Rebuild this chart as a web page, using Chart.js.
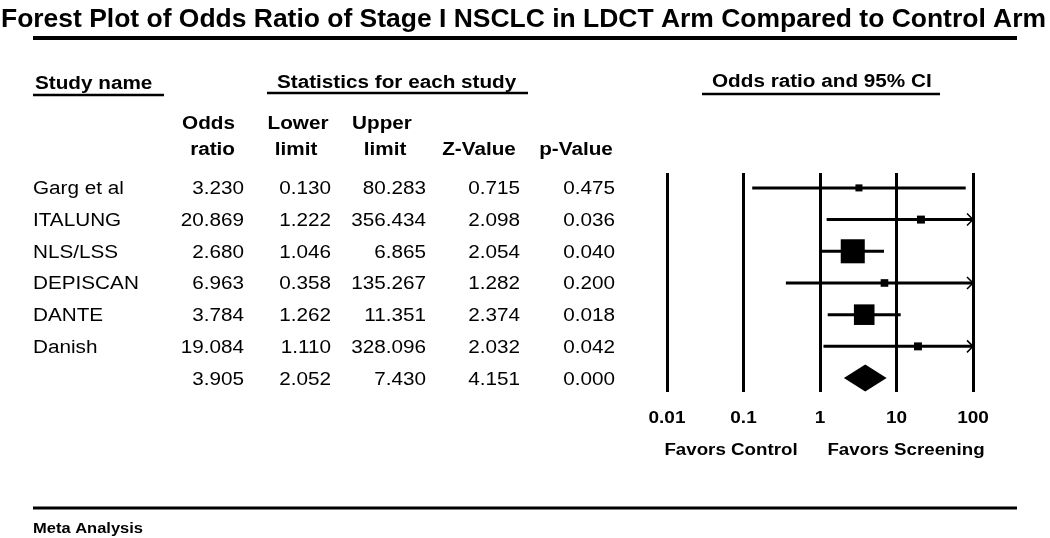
<!DOCTYPE html>
<html>
<head>
<meta charset="utf-8">
<script src="https://cdn.jsdelivr.net/npm/chart.js@4.4.1/dist/chart.umd.min.js"></script>
<style>
  body { margin: 0; background: #fff; }
  #wrap { width: 1050px; height: 538px; }
</style>
</head>
<body>
<div id="wrap"><canvas id="forest" width="1050" height="538"></canvas></div>
<script>
// study rows, last one is the pooled result
const studies = ['Garg et al', 'ITALUNG', 'NLS/LSS', 'DEPISCAN', 'DANTE', 'Danish', ''];
const oddsRatio = [3.230, 20.869, 2.680, 6.963, 3.784, 19.084, 3.905];
const lowerLimit = [0.130, 1.222, 1.046, 0.358, 1.262, 1.110, 2.052];
const upperLimit = [80.283, 356.434, 6.865, 135.267, 11.351, 328.096, 7.430];
const zValue = [0.715, 2.098, 2.054, 1.282, 2.374, 2.032, 4.151];
const pValue = [0.475, 0.036, 0.040, 0.200, 0.018, 0.042, 0.000];

const tickValues = [0.01, 0.1, 1, 10, 100];
const tickLabels = ['0.01', '0.1', '1', '10', '100'];

const FONT = '"Liberation Sans", Arial, sans-serif';
const nStudies = studies.length - 1;

// weight of each study = 1 / variance of log OR (from the CI), square area follows it
const weights = lowerLimit.slice(0, nStudies).map(function(lo, i) {
  const se = (Math.log(upperLimit[i]) - Math.log(lo)) / 3.92;
  return 1 / (se * se);
});
const maxW = Math.max.apply(null, weights);

const ciSets = [];
for (let i = 0; i < nStudies; i++) {
  ciSets.push({
    type: 'line',
    data: [{ x: lowerLimit[i], y: i + 1 }, { x: upperLimit[i], y: i + 1 }],
    borderColor: '#000',
    borderWidth: 3,
    pointRadius: 0
  });
}

const boxSet = {
  type: 'scatter',
  data: oddsRatio.slice(0, nStudies).map(function(v, i) { return { x: v, y: i + 1 }; }),
  pointStyle: 'rect',
  pointRadius: weights.map(function(w) { return 17 * Math.sqrt(w / maxW); }),
  backgroundColor: '#000',
  borderColor: '#000',
  borderWidth: 0
};

function txt(ctx, s, x, y, size, bold, align, sx) {
  ctx.save();
  ctx.font = (bold ? 'bold ' : '') + size + 'px ' + FONT;
  ctx.textAlign = align;
  ctx.textBaseline = 'alphabetic';
  ctx.fillStyle = '#000';
  ctx.translate(x, y);
  ctx.scale(sx, 1);
  ctx.fillText(s, 0, 0);
  ctx.restore();
}

function hline(ctx, x1, x2, y, w) {
  ctx.save();
  ctx.strokeStyle = '#000';
  ctx.lineWidth = w;
  ctx.beginPath();
  ctx.moveTo(x1, y);
  ctx.lineTo(x2, y);
  ctx.stroke();
  ctx.restore();
}

const tablePlugin = {
  id: 'forestTable',
  afterDraw: function(chart) {
    const ctx = chart.ctx;
    const xs = chart.scales.x;
    const ys = chart.scales.y;
    const SX = 1.15;

    // title, stretched to the full width
    const title = 'Forest Plot of Odds Ratio of Stage I NSCLC in LDCT Arm Compared to Control Arm';
    ctx.font = 'bold 25px ' + FONT;
    const tw = ctx.measureText(title).width;
    txt(ctx, title, 1, 27, 25, true, 'left', 1045 / tw);
    hline(ctx, 33, 1017, 38, 4);

    // group headers
    txt(ctx, 'Study name', 35, 89, 18, true, 'left', SX);
    hline(ctx, 33, 164, 95, 2.5);
    txt(ctx, 'Statistics for each study', 277, 88, 18, true, 'left', SX);
    hline(ctx, 267, 528, 93, 2.5);
    txt(ctx, 'Odds ratio and 95% CI', 712, 87, 18, true, 'left', SX);
    hline(ctx, 702, 940, 94, 2.5);

    // column headers
    txt(ctx, 'Odds', 235, 129, 18, true, 'right', SX);
    txt(ctx, 'ratio', 235, 155, 18, true, 'right', SX);
    txt(ctx, 'Lower', 298, 129, 18, true, 'center', SX);
    txt(ctx, 'limit', 296, 155, 18, true, 'center', SX);
    txt(ctx, 'Upper', 382, 129, 18, true, 'center', SX);
    txt(ctx, 'limit', 385, 155, 18, true, 'center', SX);
    txt(ctx, 'Z-Value', 479, 155, 18, true, 'center', SX);
    txt(ctx, 'p-Value', 576, 155, 18, true, 'center', SX);

    // table rows, placed on the same y scale as the plot
    for (let i = 0; i < studies.length; i++) {
      const y = ys.getPixelForValue(i + 1) + 6.5;
      txt(ctx, studies[i], 33, y, 18, false, 'left', SX);
      txt(ctx, oddsRatio[i].toFixed(3), 244, y, 18, false, 'right', SX);
      txt(ctx, lowerLimit[i].toFixed(3), 331, y, 18, false, 'right', SX);
      txt(ctx, upperLimit[i].toFixed(3), 426, y, 18, false, 'right', SX);
      txt(ctx, zValue[i].toFixed(3), 520, y, 18, false, 'right', SX);
      txt(ctx, pValue[i].toFixed(3), 615, y, 18, false, 'right', SX);
    }

    // arrows where the CI runs past the axis
    ctx.save();
    ctx.strokeStyle = '#000';
    ctx.lineWidth = 1.5;
    for (let i = 0; i < nStudies; i++) {
      if (upperLimit[i] > xs.max) {
        const x = xs.getPixelForValue(xs.max);
        const y = ys.getPixelForValue(i + 1);
        ctx.beginPath();
        ctx.moveTo(x - 6, y - 6);
        ctx.lineTo(x, y);
        ctx.lineTo(x - 6, y + 6);
        ctx.stroke();
      }
    }
    ctx.restore();

    // pooled diamond
    const k = nStudies;
    const dy = ys.getPixelForValue(k + 1);
    ctx.save();
    ctx.fillStyle = '#000';
    ctx.beginPath();
    ctx.moveTo(xs.getPixelForValue(lowerLimit[k]), dy);
    ctx.lineTo(xs.getPixelForValue(oddsRatio[k]), dy - 13.5);
    ctx.lineTo(xs.getPixelForValue(upperLimit[k]), dy);
    ctx.lineTo(xs.getPixelForValue(oddsRatio[k]), dy + 13.5);
    ctx.closePath();
    ctx.fill();
    ctx.restore();

    // axis labels
    xs.ticks.forEach(function(t, i) {
      txt(ctx, tickLabels[i], xs.getPixelForValue(t.value), 423, 16.5, true, 'center', SX);
    });
    txt(ctx, 'Favors Control', 731, 455, 16.3, true, 'center', SX);
    txt(ctx, 'Favors Screening', 906, 455, 16.3, true, 'center', SX);

    // footer
    hline(ctx, 33, 1017, 508, 3);
    txt(ctx, 'Meta Analysis', 33, 533, 15, true, 'left', 1.1);
  }
};

new Chart(document.getElementById('forest'), {
  data: { datasets: [boxSet].concat(ciSets) },
  options: {
    responsive: false,
    animation: false,
    devicePixelRatio: 1,
    layout: { padding: { left: 667, right: 77, top: 173, bottom: 146 } },
    plugins: { legend: { display: false }, tooltip: { enabled: false } },
    scales: {
      x: {
        type: 'logarithmic',
        min: tickValues[0],
        max: tickValues[tickValues.length - 1],
        afterBuildTicks: function(scale) {
          scale.ticks = tickValues.map(function(v) { return { value: v }; });
        },
        ticks: { display: false },
        border: { display: false },
        grid: { color: '#000', lineWidth: 3, drawTicks: false }
      },
      y: {
        type: 'linear',
        display: false,
        reverse: true,
        min: 0.53,
        max: 7.44
      }
    }
  },
  plugins: [tablePlugin]
});
</script>
</body>
</html>
